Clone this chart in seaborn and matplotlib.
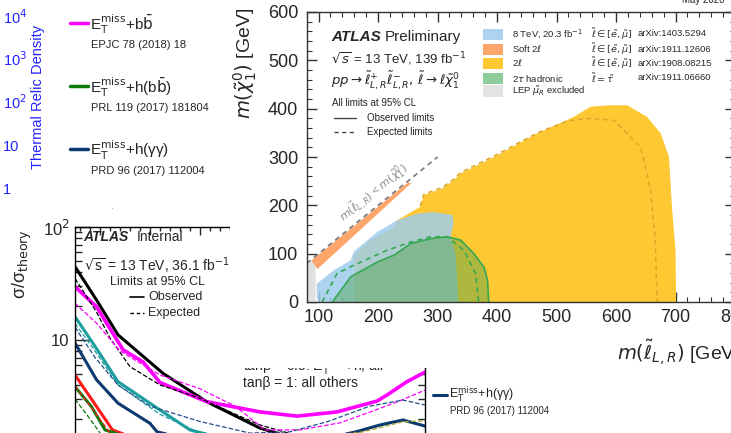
import numpy as np
import pandas as pd
import matplotlib
matplotlib.use("Agg")
import matplotlib.pyplot as plt
import seaborn as sns
from matplotlib.patches import Rectangle
from matplotlib.lines import Line2D
from matplotlib.ticker import MultipleLocator, FixedLocator, FixedFormatter, NullFormatter, LogLocator

sns.set_style("ticks")
plt.rcParams["font.family"] = ["Liberation Sans", "DejaVu Sans"]
plt.rcParams["mathtext.fontset"] = "dejavusans"

# ---------------- data: thermal relic legend (top left) ----------------
relic_labels = ["10$^{4}$", "10$^{3}$", "10$^{2}$", "10", "1"]
channel_labels = [r"E$_{\mathrm{T}}^{\mathrm{miss}}$+b$\bar{\mathrm{b}}$",
                  r"E$_{\mathrm{T}}^{\mathrm{miss}}$+h(b$\bar{\mathrm{b}}$)",
                  r"E$_{\mathrm{T}}^{\mathrm{miss}}$+h(γγ)"]
channel_refs = ["EPJC 78 (2018) 18", "PRL 119 (2017) 181804", "PRD 96 (2017) 112004"]
channel_colors = ["#ff00ff", "#0a7a0a", "#0b3a6e"]

# ---------------- data: sigma / sigma_theory curves ----------------
mag_obs_m = [150, 193, 246, 286, 320, 413, 520, 594, 674, 754, 774, 814, 850]
mag_obs_v = [29.6, 19.7, 8.2, 6.4, 4.2, 2.85, 2.31, 2.12, 2.31, 2.88, 3.26, 4.28, 5.2]
blk_obs_m = [150, 193, 236, 326, 413, 520, 600, 700, 850]
blk_obs_v = [44.6, 22.6, 11.1, 5.07, 2.85, 1.66, 1.3, 1.2, 1.15]
teal_obs_m = [150, 190, 236, 320, 380, 460, 600, 850]
teal_obs_v = [16.1, 8.8, 4.28, 2.40, 1.60, 1.3, 1.2, 1.3]
navy_obs_m = [150, 193, 236, 300, 314, 400, 600, 712, 760, 806, 850]
navy_obs_v = [9.4, 4.45, 2.76, 1.83, 1.54, 1.25, 1.2, 1.54, 1.77, 1.96, 1.73]
red_obs_m = [150, 190, 225, 300, 850]
red_obs_v = [4.9, 2.7, 1.6, 1.2, 1.1]
grn_obs_m = [150, 183, 210, 300, 850]
grn_obs_v = [3.86, 2.57, 1.6, 1.2, 1.1]

blk_exp_m = [150, 193, 220, 260, 320, 400, 473, 520, 600, 850]
blk_exp_v = [35.0, 17.7, 10.4, 5.81, 4.0, 3.05, 2.18, 1.77, 1.4, 1.3]
mag_exp_m = [150, 193, 240, 320, 400, 470, 530, 600, 680, 740, 800, 850]
mag_exp_v = [21.1, 14.1, 8.0, 4.9, 3.7, 2.6, 1.6, 1.6, 1.85, 2.3, 2.9, 3.6]
teal_exp_m = [150, 190, 236, 320, 400, 850]
teal_exp_v = [14.0, 8.0, 4.0, 2.2, 1.5, 1.2]
navy_exp_m = [150, 190, 236, 300, 400, 500, 580, 654, 740, 806, 850]
navy_exp_v = [13.0, 7.0, 4.0, 2.6, 1.9, 1.5, 1.54, 1.89, 2.6, 2.94, 2.66]
olv_exp_m = [600, 726, 806, 850]
olv_exp_v = [1.3, 1.54, 1.89, 1.93]
red_exp_m = [150, 190, 220, 300]
red_exp_v = [3.9, 2.3, 1.5, 1.2]
grn_exp_m = [150, 180, 205, 300]
grn_exp_v = [3.0, 2.0, 1.4, 1.1]

# ---------------- data: slepton exclusion (right) ----------------
lep_x = [80, 80, 95, 95]
lep_y = [0, 80, 90, 0]
yel_x = [160, 159, 187, 224, 232, 271, 277, 308, 327, 339, 395, 468, 529, 557, 590, 619, 652, 675, 689, 694, 700, 701]
yel_y = [0, 95, 128, 152, 169, 197, 221, 235, 252, 266, 300, 349, 383, 404, 407, 407, 383, 349, 300, 197, 107, 0]
yel_exp_x = [271, 277, 308, 327, 339, 395, 468, 520, 557, 596, 641, 647, 658, 666, 669]
yel_exp_y = [199, 223, 237, 254, 268, 302, 350, 375, 380, 376, 321, 293, 231, 128, 0]
blu_x = [97, 97, 126, 154, 159, 199, 232, 266, 294, 325, 327, 322, 330, 333, 335, 100]
blu_y = [8, 38, 66, 86, 104, 145, 169, 183, 186, 180, 162, 135, 100, 50, 0, 0]
grn_x = [123, 154, 199, 227, 255, 288, 316, 339, 361, 378, 384, 386]
grn_y = [0, 52, 83, 97, 121, 131, 135, 128, 100, 72, 45, 0]
grn_exp_x = [106, 131, 159, 215, 255, 288, 316, 344, 364, 369]
grn_exp_y = [0, 59, 76, 107, 124, 135, 135, 107, 59, 0]
org_x = [88, 98, 255, 251]
org_y = [86, 68, 245, 248]
diag_x = [80, 300]
diag_y = [80, 300]

leg_labels = ["8 TeV, 20.3 fb$^{-1}$", r"Soft 2$\ell$", r"2$\ell$", r"2$\tau$ hadronic", r"LEP $\tilde{\mu}_R$ excluded"]
leg_slep = [r"$\tilde{\ell}\in[\tilde{e},\tilde{\mu}]$", r"$\tilde{\ell}\in[\tilde{e},\tilde{\mu}]$",
            r"$\tilde{\ell}\in[\tilde{e},\tilde{\mu}]$", r"$\tilde{\ell}=\tilde{\tau}$", ""]
leg_refs = ["arXiv:1403.5294", "arXiv:1911.12606", "arXiv:1908.08215", "arXiv:1911.06660", ""]
leg_colors = ["#acd3ef", "#fda66c", "#fdc832", "#8fcc9b", "#e3e3e3"]

# ---------------- figure helpers ----------------
W, H = 731, 433
fig = plt.figure(figsize=(W / 100, H / 100), dpi=100)


def fx(x):
    return x / W


def fy(y):
    return 1 - y / H


def rect(x0, y0, x1, y1):
    return [x0 / W, 1 - y1 / H, (x1 - x0) / W, (y1 - y0) / H]


def ftext(x, y, s, z, **kw):
    t = fig.text(fx(x), fy(y), s, **kw)
    t.set_zorder(z)
    return t


def fline(x0, x1, y, z, **kw):
    ln = Line2D([fx(x0), fx(x1)], [fy(y), fy(y)], transform=fig.transFigure, **kw)
    ln.set_zorder(z)
    fig.add_artist(ln)


# ---------------- top-left: relic density legend ----------------
blue = "#2323ff"
for lab, yy in zip(relic_labels, [18, 60, 103, 147, 190]):
    ftext(3, yy, lab, 0.5, color=blue, fontsize=10.5, ha="left", va="center")
ftext(38, 97, "Thermal Relic Density", 0.5, color=blue, fontsize=10.5, rotation=90, ha="center", va="center")
for lab, ref, col, yy in zip(channel_labels, channel_refs, channel_colors, [23, 86, 149]):
    fline(70, 88, yy, 0.5, color=col, lw=2.5)
    ftext(90, yy + 1, lab, 0.5, fontsize=11, ha="left", va="center")
    ftext(91, yy + 22, ref, 0.5, fontsize=8, ha="left", va="center")
ftext(90, 218, r"E$_{\mathrm{T}}^{\mathrm{miss}}$+Z", 0.5, fontsize=11, ha="left", va="center", color="#aaaaaa")

# ---------------- bottom-left: sigma / sigma_theory ----------------
cov1 = Rectangle((0, 0), 1, fy(210), transform=fig.transFigure, facecolor="white", edgecolor="none")
cov1.set_zorder(1)
fig.add_artist(cov1)

ax_s = fig.add_axes(rect(75, 227, 425, 453))
ax_s.set_zorder(2)
ax_s.set_yscale("log")
curves = [
    (blk_obs_m, blk_obs_v, "black", "-", 2.2),
    (teal_obs_m, teal_obs_v, "#1d9e9e", "-", 2.2),
    (navy_obs_m, navy_obs_v, "#0b3a6e", "-", 2.2),
    (red_obs_m, red_obs_v, "#ff1a1a", "-", 2.2),
    (grn_obs_m, grn_obs_v, "#0a7a0a", "-", 2.2),
    (mag_obs_m, mag_obs_v, "#ff00ff", "-", 2.6),
    (blk_exp_m, blk_exp_v, "black", "--", 0.9),
    (mag_exp_m, mag_exp_v, "#ff00ff", "--", 0.9),
    (teal_exp_m, teal_exp_v, "#1d9e9e", "--", 0.9),
    (navy_exp_m, navy_exp_v, "#1f4f8a", "--", 0.9),
    (olv_exp_m, olv_exp_v, "#a8a22a", "--", 0.9),
    (red_exp_m, red_exp_v, "#ff1a1a", "--", 0.9),
    (grn_exp_m, grn_exp_v, "#0a7a0a", "--", 0.9),
]
for mm, vv, col, ls, lw in curves:
    sns.lineplot(x=mm, y=vv, ax=ax_s, color=col, linestyle=ls, lw=lw, sort=False, estimator=None)
ax_s.set_xlim(150, 850)
ax_s.set_ylim(1, 100)
ax_s.yaxis.set_major_locator(FixedLocator([1, 10, 100]))
ax_s.yaxis.set_major_formatter(FixedFormatter(["1", "10", "10$^{2}$"]))
ax_s.yaxis.set_minor_locator(LogLocator(base=10, subs=np.arange(2, 10)))
ax_s.yaxis.set_minor_formatter(NullFormatter())
ax_s.xaxis.set_major_locator(MultipleLocator(100))
ax_s.xaxis.set_minor_locator(MultipleLocator(20))
ax_s.set_xticklabels([])
ax_s.tick_params(which="both", direction="in", top=True, right=True, labelsize=12, pad=4)
ax_s.tick_params(which="major", length=11, width=1)
ax_s.tick_params(which="minor", length=5, width=1)
ax_s.tick_params(axis="x", which="major", length=6)
ax_s.tick_params(axis="x", which="minor", length=3)
for s in ax_s.spines.values():
    s.set_linewidth(1.0)
    s.set_color("black")
ax_s.set_xlabel("")
ax_s.set_ylabel("")

ftext(22, 229, r"σ/σ$_{\mathrm{theory}}$", 3, fontsize=13, rotation=90, ha="center", va="top")
ftext(83, 237, "ATLAS", 3, fontsize=10, weight="bold", style="italic", ha="left", va="center")
ftext(137, 237, "Internal", 3, fontsize=10, ha="left", va="center")
ftext(84, 266, r"$\sqrt{\mathrm{s}}$ = 13 TeV, 36.1 fb$^{-1}$", 3, fontsize=10, ha="left", va="center")
ftext(110, 282, "Limits at 95% CL", 3, fontsize=9, ha="left", va="center")
fline(130, 144, 297, 3, color="black", lw=1.2)
ftext(148, 297, "Observed", 3, fontsize=9, ha="left", va="center")
fline(130, 144, 313, 3, color="black", lw=1.0, linestyle=(0, (2.5, 2)))
ftext(148, 313, "Expected", 3, fontsize=9, ha="left", va="center")
ftext(243, 366, r"tanβ = 0.5: E$_{\mathrm{T}}^{\mathrm{miss}}$+h, all", 3, fontsize=10, ha="left", va="center")
ftext(243, 383, r"tanβ = 1: all others", 3, fontsize=10, ha="left", va="center")
fline(433, 447, 395, 3, color="#0b3a6e", lw=2.2)
ftext(449, 394, r"E$_{\mathrm{T}}^{\mathrm{miss}}$+h(γγ)", 3, fontsize=9, ha="left", va="center")
ftext(450, 411, "PRD 96 (2017) 112004", 3, fontsize=7, ha="left", va="center")

# ---------------- right: slepton exclusion ----------------
cov2 = Rectangle((fx(230), fy(368)), 1 - fx(230), 1 - fy(368), transform=fig.transFigure,
                 facecolor="white", edgecolor="none")
cov2.set_zorder(5)
fig.add_artist(cov2)

ax = fig.add_axes(rect(306.7, 12, 735, 302))
ax.set_zorder(6)
ax.set_facecolor("white")
ax.fill(lep_x, lep_y, color="#e0e0e0", lw=0)
ax.fill(yel_x, yel_y, color="#fdc832", lw=0)
ax.fill(blu_x, blu_y, color="#9ecdeb", alpha=0.85, lw=0)
ax.fill(grn_x, grn_y, color="#4fa44d", alpha=0.45, lw=0)
ax.fill(org_x, org_y, color="#fda66c", lw=0)
sns.lineplot(x=yel_exp_x, y=yel_exp_y, ax=ax, sort=False, estimator=None, color="#dca42a",
             lw=1.1, linestyle=(0, (3, 2.5)))
sns.lineplot(x=grn_x, y=grn_y, ax=ax, sort=False, estimator=None, color="#34a853", lw=1.2)
sns.lineplot(x=grn_exp_x, y=grn_exp_y, ax=ax, sort=False, estimator=None, color="#34a853",
             lw=1.2, linestyle=(0, (3, 2.5)))
sns.lineplot(x=diag_x, y=diag_y, ax=ax, sort=False, estimator=None, color="#777777",
             lw=1.2, linestyle=(0, (3, 2.5)))
ax.text(192, 227, r"$m(\tilde{\ell}_{L,R})$ < $m(\tilde{\chi}^{0}_{1})$", color="#8a8a8a", fontsize=8,
        rotation=39, ha="center", va="center", rotation_mode="anchor")
ax.set_xlim(80, 800)
ax.set_ylim(0, 600)
ax.xaxis.set_major_locator(MultipleLocator(100))
ax.xaxis.set_minor_locator(MultipleLocator(20))
ax.yaxis.set_major_locator(MultipleLocator(100))
ax.yaxis.set_minor_locator(MultipleLocator(20))
ax.tick_params(which="both", direction="in", top=True, right=True, labelsize=13, color="#333333")
ax.tick_params(which="major", length=7, width=1)
ax.tick_params(which="minor", length=3.5, width=0.8)
ax.tick_params(axis="y", which="major", pad=6)
ax.tick_params(axis="x", which="major", pad=5)
for s in ax.spines.values():
    s.set_linewidth(1.0)
    s.set_color("#333333")
ax.set_xlabel("")
ax.set_ylabel("")

ftext(245, 8, r"$m(\tilde{\chi}^{0}_{1})$ [GeV]", 7, fontsize=14, rotation=90, ha="center", va="top")
ftext(740, 353, r"$m(\tilde{\ell}_{L,R})$ [GeV]", 7, fontsize=14, ha="right", va="center")
ftext(703, 0, "May 2020", 7, fontsize=7, ha="center", va="center")

ftext(331, 37, "ATLAS", 7, fontsize=11, weight="bold", style="italic", ha="left", va="center")
ftext(385, 37, "Preliminary", 7, fontsize=11, ha="left", va="center")
ftext(331, 59, r"$\sqrt{s}$ = 13 TeV, 139 fb$^{-1}$", 7, fontsize=9.5, ha="left", va="center")
ftext(331, 81, r"$pp\rightarrow\tilde{\ell}^{+}_{L,R}\tilde{\ell}^{-}_{L,R},\,\tilde{\ell}\rightarrow\ell\tilde{\chi}^{0}_{1}$",
      7, fontsize=9.5, ha="left", va="center")
ftext(332, 103, "All limits at 95% CL", 7, fontsize=7, ha="left", va="center")
fline(334, 356, 118, 7, color="#444444", lw=1.0)
ftext(367, 118, "Observed limits", 7, fontsize=7, ha="left", va="center")
fline(334, 356, 132, 7, color="#444444", lw=1.0, linestyle=(0, (3, 2.5)))
ftext(367, 132, "Expected limits", 7, fontsize=7, ha="left", va="center")

for lab, sl, ref, col, yy in zip(leg_labels, leg_slep, leg_refs, leg_colors, [34, 49, 63, 78, 91]):
    r = Rectangle((fx(483), fy(yy + 5.5)), fx(503) - fx(483), fy(yy - 5.5) - fy(yy + 5.5),
                  transform=fig.transFigure, facecolor=col, edgecolor="none")
    r.set_zorder(7)
    fig.add_artist(r)
    ftext(512, yy, lab, 7, fontsize=6.8, ha="left", va="center")
    if sl:
        ftext(591, yy, sl, 7, fontsize=6.8, ha="left", va="center", color="#333333")
    if ref:
        ftext(638, yy, ref, 7, fontsize=6.8, ha="left", va="center")

fig.savefig("out.png", dpi=100)
